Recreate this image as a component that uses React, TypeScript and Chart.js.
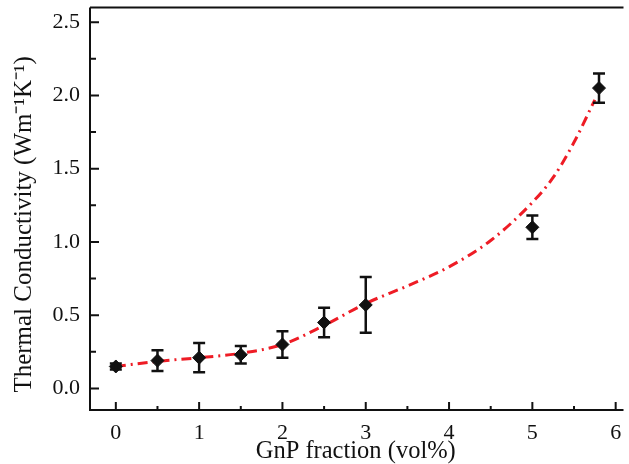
import React, { useEffect, useRef } from "react";
import { Chart, registerables } from "chart.js";

Chart.register(...registerables);

const xValues = [0, 0.5, 1, 1.5, 2, 2.5, 3, 5, 5.8];
const yValues = [0.15, 0.19, 0.21, 0.23, 0.3, 0.45, 0.57, 1.1, 2.05];
const yErrors = [0.02, 0.07, 0.1, 0.06, 0.09, 0.1, 0.19, 0.08, 0.1];

const fitX = [0, 0.5, 1, 1.5, 2, 2.5, 3, 3.5, 4, 4.5, 5, 5.25, 5.5, 5.75];
const fitY = [0.15, 0.185, 0.21, 0.24, 0.3, 0.43, 0.58, 0.7, 0.83, 1.01, 1.27, 1.44, 1.68, 1.97];

const xTickValues = [0, 1, 2, 3, 4, 5, 6];
const yTickValues = [0, 0.5, 1, 1.5, 2, 2.5];

const xTitle = "GnP fraction (vol%)";
const yTitle = "Thermal Conductivity (Wm\u207B\u00B9K\u207B\u00B9)\u00A0\u00A0\u00A0\u00A0\u00A0";

const SERIF = "'Liberation Serif', 'Times New Roman', serif";
const INK = "#111111";

const errorBarPlugin = {
  id: "errorBars",
  afterDatasetsDraw(chart: any) {
    const ctx = chart.ctx;
    const xs = chart.scales.x;
    const ys = chart.scales.y;
    ctx.save();
    ctx.strokeStyle = INK;
    ctx.lineWidth = 2.5;
    const cap = 6;
    for (let i = 0; i < xValues.length; i++) {
      const px = xs.getPixelForValue(xValues[i]);
      const top = ys.getPixelForValue(yValues[i] + yErrors[i]);
      const bot = ys.getPixelForValue(yValues[i] - yErrors[i]);
      ctx.beginPath();
      ctx.moveTo(px, top);
      ctx.lineTo(px, bot);
      ctx.moveTo(px - cap, top);
      ctx.lineTo(px + cap, top);
      ctx.moveTo(px - cap, bot);
      ctx.lineTo(px + cap, bot);
      ctx.stroke();
    }
    ctx.restore();
  },
};

const framePlugin = {
  id: "frame",
  afterDraw(chart: any) {
    const ctx = chart.ctx;
    const { left, right, top, bottom } = chart.chartArea;
    const xs = chart.scales.x;
    const ys = chart.scales.y;
    ctx.save();
    ctx.strokeStyle = INK;
    ctx.lineWidth = 2;
    ctx.beginPath();
    ctx.moveTo(left, top);
    ctx.lineTo(left, bottom);
    ctx.lineTo(right + 2, bottom);
    ctx.moveTo(left, top);
    ctx.lineTo(right + 2, top);
    ctx.stroke();
    ctx.beginPath();
    for (let v = 0; v <= 6.001; v += 0.5) {
      const px = xs.getPixelForValue(v);
      const major = Math.abs(v - Math.round(v)) < 1e-6;
      const len = major ? 8 : 4;
      ctx.moveTo(px, bottom);
      ctx.lineTo(px, bottom - len);
    }
    for (let v = 0; v <= 2.5001; v += 0.25) {
      const py = ys.getPixelForValue(v);
      const major = Math.abs(v * 2 - Math.round(v * 2)) < 1e-6;
      const len = major ? 9 : 6;
      ctx.moveTo(left, py);
      ctx.lineTo(left + len, py);
    }
    ctx.stroke();
    ctx.restore();
  },
};

export default function App() {
  const canvasRef = useRef<HTMLCanvasElement | null>(null);

  useEffect(() => {
    const canvas = canvasRef.current;
    if (!canvas) return;
    const chart = new Chart(canvas, {
      type: "scatter",
      data: {
        datasets: [
          {
            label: "Measured",
            data: xValues.map((x, i) => ({ x, y: yValues[i] })),
            pointStyle: "rectRot",
            pointRadius: 6.5,
            backgroundColor: INK,
            borderColor: INK,
            borderWidth: 1,
            showLine: false,
          },
          {
            label: "Fit",
            type: "line",
            data: fitX.map((x, i) => ({ x, y: fitY[i] })),
            borderColor: "#ee1c25",
            borderWidth: 3,
            borderDash: [10, 5, 2, 5],
            pointRadius: 0,
            fill: false,
            cubicInterpolationMode: "monotone",
          } as any,
        ],
      },
      options: {
        responsive: false,
        animation: false,
        layout: { padding: { top: 6, right: 0, bottom: 0, left: 0 } },
        plugins: {
          legend: { display: false },
          tooltip: { enabled: false },
        },
        scales: {
          x: {
            type: "linear",
            min: -0.31,
            max: 6.07,
            grid: { display: false, drawTicks: false },
            border: { display: false },
            afterBuildTicks: (scale: any) => {
              scale.ticks = xTickValues.map((v) => ({ value: v }));
            },
            ticks: {
              color: INK,
              padding: 10,
              font: { family: SERIF, size: 22 },
              callback: (v: any) => String(v),
            },
            title: {
              display: true,
              text: xTitle,
              color: INK,
              font: { family: SERIF, size: 24.5, lineHeight: 1 },
              padding: { top: 0, bottom: 0 },
            },
            afterFit: (scale: any) => {
              scale.height = 54;
              scale.paddingLeft = 0;
              scale.paddingRight = 0;
            },
          },
          y: {
            type: "linear",
            min: -0.147,
            max: 2.6,
            grid: { display: false, drawTicks: false },
            border: { display: false },
            afterBuildTicks: (scale: any) => {
              scale.ticks = yTickValues.map((v) => ({ value: v }));
            },
            ticks: {
              color: INK,
              padding: 10,
              font: { family: SERIF, size: 22 },
              callback: (v: any) => Number(v).toFixed(1),
            },
            title: {
              display: true,
              text: yTitle,
              color: INK,
              font: { family: SERIF, size: 25, lineHeight: 1 },
              padding: { top: 12, bottom: 0 },
            },
            afterFit: (scale: any) => {
              scale.width = 90;
              scale.paddingTop = 0;
              scale.paddingBottom = 0;
            },
          },
        },
      },
      plugins: [errorBarPlugin, framePlugin],
    } as any);
    return () => chart.destroy();
  }, []);

  return (
    <div style={{ position: "absolute", left: 0, top: 0, width: 629, height: 464, background: "#fff", overflow: "hidden" }}>
      <canvas ref={canvasRef} width={629} height={464} style={{ width: 629, height: 464, display: "block" }} />
    </div>
  );
}
